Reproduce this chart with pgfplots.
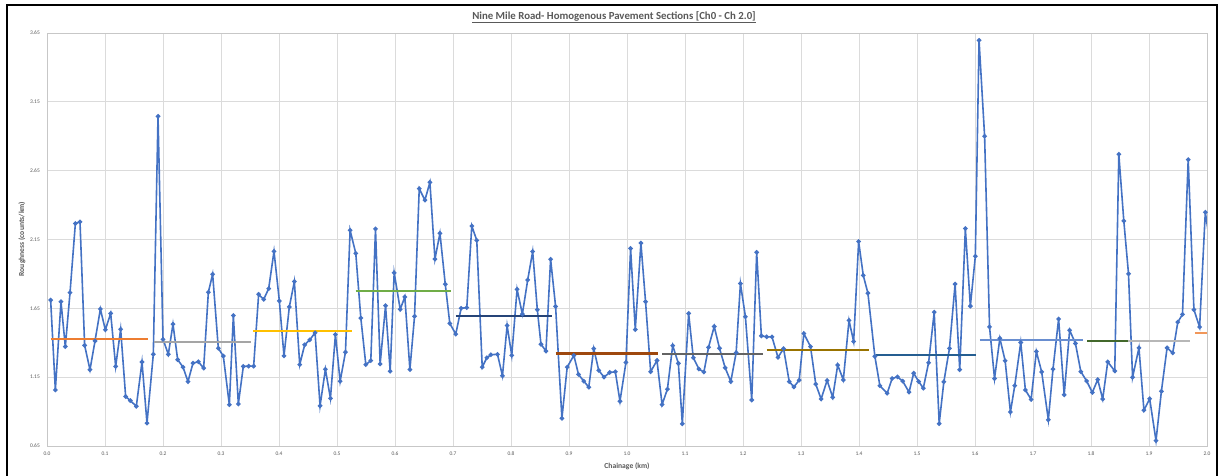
\documentclass[border=0pt]{standalone}
\usepackage{pgfplots}
\pgfplotsset{compat=1.18}
\usepackage{fontspec}
\setmainfont{Carlito}
\definecolor{ser}{HTML}{4472C4}
\definecolor{s1}{HTML}{ED7D31}
\definecolor{s2}{HTML}{A5A5A5}
\definecolor{s3}{HTML}{FFC000}
\definecolor{s4}{HTML}{70AD47}
\definecolor{s5}{HTML}{264478}
\definecolor{s6}{HTML}{9E480E}
\definecolor{s7}{HTML}{636363}
\definecolor{s8}{HTML}{997300}
\definecolor{s9}{HTML}{255E91}
\definecolor{s10}{HTML}{698ED0}
\definecolor{s11}{HTML}{43682B}
\definecolor{s12}{HTML}{B7B7B7}
\definecolor{s13}{HTML}{F1975A}
\definecolor{txt}{HTML}{595959}
\pgfplotstableread{
x y
0.0063 1.710
0.0144 1.057
0.0241 1.698
0.0316 1.372
0.0397 1.764
0.0489 2.266
0.0569 2.278
0.0649 1.381
0.0741 1.204
0.0828 1.413
0.0920 1.645
0.1006 1.494
0.1098 1.613
0.1184 1.228
0.1270 1.498
0.1356 1.009
0.1437 0.980
0.1540 0.938
0.1638 1.260
0.1724 0.816
0.1833 1.316
0.1914 3.045
0.2000 1.425
0.2092 1.316
0.2172 1.535
0.2253 1.277
0.2345 1.223
0.2431 1.118
0.2517 1.252
0.2609 1.262
0.2701 1.216
0.2782 1.767
0.2856 1.898
0.2954 1.360
0.3040 1.303
0.3144 0.950
0.3213 1.598
0.3299 0.955
0.3385 1.228
0.3477 1.230
0.3563 1.230
0.3649 1.752
0.3736 1.715
0.3822 1.793
0.3914 2.064
0.4006 1.704
0.4086 1.305
0.4178 1.660
0.4265 1.845
0.4357 1.241
0.4443 1.385
0.4530 1.421
0.4622 1.472
0.4708 0.942
0.4800 1.207
0.4887 0.996
0.4973 1.460
0.5054 1.120
0.5146 1.331
0.5226 2.217
0.5324 2.049
0.5411 1.579
0.5497 1.241
0.5583 1.270
0.5664 2.227
0.5744 1.246
0.5837 1.669
0.5917 1.193
0.5986 1.908
0.6090 1.643
0.6170 1.733
0.6257 1.205
0.6337 1.592
0.6418 2.519
0.6516 2.436
0.6602 2.565
0.6689 2.008
0.6775 2.195
0.6867 1.825
0.6945 1.540
0.7048 1.463
0.7140 1.650
0.7238 1.655
0.7324 2.248
0.7410 2.144
0.7504 1.223
0.7584 1.291
0.7653 1.313
0.7767 1.316
0.7853 1.160
0.7933 1.525
0.8013 1.308
0.8105 1.788
0.8196 1.608
0.8288 1.856
0.8374 2.063
0.8454 1.640
0.8517 1.389
0.8603 1.340
0.8683 2.007
0.8769 1.664
0.8878 0.851
0.8969 1.223
0.9084 1.308
0.9164 1.170
0.9255 1.121
0.9341 1.077
0.9427 1.357
0.9513 1.199
0.9604 1.150
0.9702 1.184
0.9799 1.189
0.9879 0.975
0.9982 1.257
1.0062 2.085
1.0143 1.496
1.0240 2.124
1.0320 1.698
1.0408 1.190
1.0517 1.271
1.0605 0.951
1.0697 1.063
1.0788 1.379
1.0886 1.250
1.0954 0.811
1.1063 1.613
1.1143 1.291
1.1240 1.209
1.1326 1.187
1.1406 1.367
1.1504 1.518
1.1595 1.360
1.1693 1.218
1.1790 1.118
1.1882 1.328
1.1956 1.830
1.2042 1.589
1.2151 0.984
1.2236 2.057
1.2317 1.450
1.2408 1.443
1.2500 1.443
1.2603 1.294
1.2700 1.357
1.2797 1.118
1.2878 1.079
1.2969 1.128
1.3049 1.467
1.3164 1.372
1.3255 1.099
1.3347 0.991
1.3450 1.126
1.3547 1.004
1.3633 1.238
1.3730 1.130
1.3828 1.562
1.3908 1.409
1.3994 2.135
1.4074 1.889
1.4154 1.760
1.4274 1.301
1.4360 1.088
1.4486 1.033
1.4571 1.140
1.4663 1.152
1.4754 1.121
1.4863 1.041
1.4943 1.179
1.5029 1.118
1.5109 1.070
1.5200 1.255
1.5297 1.622
1.5383 0.812
1.5463 1.116
1.5560 1.359
1.5657 1.826
1.5737 1.204
1.5834 2.230
1.5920 1.666
1.6006 2.028
1.6070 3.597
1.6166 2.900
1.6251 1.515
1.6337 1.140
1.6429 1.432
1.6520 1.269
1.6611 0.897
1.6686 1.089
1.6789 1.402
1.6869 1.057
1.6968 0.988
1.7058 1.336
1.7150 1.188
1.7265 0.840
1.7345 1.209
1.7442 1.573
1.7538 1.022
1.7632 1.491
1.7732 1.395
1.7825 1.190
1.7925 1.122
1.8023 1.039
1.8116 1.132
1.8202 0.991
1.8289 1.261
1.8410 1.195
1.8480 2.769
1.8566 2.285
1.8647 1.901
1.8717 1.149
1.8827 1.363
1.8913 0.910
1.9012 0.993
1.9121 0.689
1.9214 1.047
1.9312 1.363
1.9410 1.326
1.9497 1.550
1.9578 1.606
1.9676 2.730
1.9775 1.640
1.9873 1.514
1.9971 2.348
2.0060 2.100
}\rough
\begin{document}
\begin{tikzpicture}[x=1pt,y=1pt]
\useasboundingbox (0,0) rectangle (1219,476);
\fill[white] (0,0) rectangle (1219,476);
\begin{axis}[
  at={(47pt,30pt)}, anchor=south west,
  scale only axis, width=1160pt, height=413pt,
  xmin=0, xmax=2, ymin=0.65, ymax=3.65,
  xtick={0,0.1,0.2,0.3,0.4,0.5,0.6,0.7,0.8,0.9,1.0,1.1,1.2,1.3,1.4,1.5,1.6,1.7,1.8,1.9,2.0},
  ytick={0.65,1.15,1.65,2.15,2.65,3.15,3.65},
  /pgf/number format/assume math mode=true,
  xticklabel style={/pgf/number format/fixed,/pgf/number format/fixed zerofill,/pgf/number format/precision=1,
    font=\fontsize{5.5}{6}\selectfont, text=txt, inner sep=0pt, yshift=-6pt},
  yticklabel style={/pgf/number format/fixed,/pgf/number format/fixed zerofill,/pgf/number format/precision=2,
    font=\fontsize{5.5}{6}\selectfont, text=txt, inner sep=0pt, xshift=-7pt},
  major tick length=0pt,
  grid=major,
  major grid style={draw=black!14, line width=0.8pt},
  axis line style={draw=black!22, line width=0.8pt},
  clip=true,
]
\addplot[color=ser, line width=1.6pt, mark=*, mark size=1.4pt, mark options={fill=ser, draw=ser}] table[x=x,y=y] {\rough};
\addplot[s1, line width=2.2pt] coordinates {(0.0063,1.425) (0.175,1.425)};
\addplot[s2, line width=2.2pt] coordinates {(0.184,1.406) (0.351,1.406)};
\addplot[s3, line width=2.2pt] coordinates {(0.356,1.487) (0.5255,1.487)};
\addplot[s4, line width=2.2pt] coordinates {(0.532,1.774) (0.697,1.774)};
\addplot[s5, line width=2.2pt] coordinates {(0.705,1.593) (0.871,1.593)};
\addplot[s6, line width=2.2pt] coordinates {(0.877,1.322) (1.054,1.322)};
\addplot[s7, line width=2.2pt] coordinates {(1.061,1.318) (1.234,1.318)};
\addplot[s8, line width=2.2pt] coordinates {(1.241,1.348) (1.418,1.348)};
\addplot[s9, line width=2.2pt] coordinates {(1.4286,1.313) (1.6017,1.313)};
\addplot[s10, line width=2.2pt] coordinates {(1.6086,1.421) (1.7857,1.421)};
\addplot[s11, line width=2.2pt] coordinates {(1.7936,1.412) (1.8642,1.412)};
\addplot[s12, line width=2.2pt] coordinates {(1.8642,1.412) (1.9711,1.412)};
\addplot[s13, line width=2.2pt] coordinates {(1.9792,1.472) (2.0,1.472)};
\end{axis}
\node[font=\bfseries\fontsize{10.8}{12}\selectfont, text=txt] at (614,459) {\underline{Nine Mile Road- Homogenous Pavement Sections [Ch0 - Ch 2.0]}};
\node[font=\bfseries\fontsize{7.6}{8}\selectfont, text=txt] at (627,10) {Chainage (km)};
\node[font=\bfseries\fontsize{7.6}{8}\selectfont, text=txt, rotate=90] at (22,237) {Roughness (counts/km)};
\draw[line width=2pt] (7,0) -- (7,471) -- (1217,471) -- (1217,0);
\end{tikzpicture}
\end{document}
